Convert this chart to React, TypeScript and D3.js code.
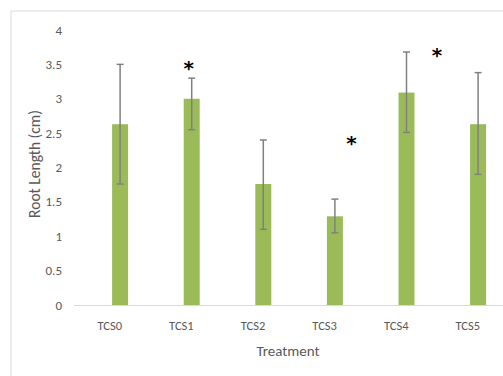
import React from "react";
import * as d3 from "d3";

// Root length per treatment with standard deviation error bars
const categories = ["TCS0", "TCS1", "TCS2", "TCS3", "TCS4", "TCS5"];
const means = [2.63, 3.0, 1.76, 1.29, 3.09, 2.63];
const errUpper = [3.5, 3.3, 2.4, 1.54, 3.68, 3.38];
const errLower = [1.76, 2.55, 1.1, 1.05, 2.51, 1.9];
// significance markers: category, vertical position (axis units), horizontal nudge (px)
const starCats = ["TCS1", "TCS3", "TCS4"];
const starValues = [3.53, 2.44, 3.72];
const starNudge = [-3, 16.5, 30.5];
const yTicks = [0, 0.5, 1, 1.5, 2, 2.5, 3, 3.5, 4];

const W = 503;
const H = 376;
const left = 74;
const right = 503.6;
const top = 30;
const bottom = 305;
// bars sit slightly to the right of their category label
const barShift = 10.3;

const font = "Carlito, Calibri, 'Liberation Sans Narrow', 'DejaVu Sans Condensed', sans-serif";

export default function App() {
  const x = d3.scaleBand<string>().domain(categories).range([left, right]).padding(0);
  const y = d3.scaleLinear().domain([0, 4]).range([bottom, top]);
  const cx = (c: string) => (x(c) as number) + x.bandwidth() / 2;
  const bx = (c: string) => cx(c) + barShift;
  const barW = 16;
  const cap = 3.5;

  return (
    <svg width={W} height={H} style={{ position: "absolute", left: 0, top: 0, background: "#fff" }}>
      {/* chart frame */}
      <path d={`M11,${H} L11,11 L${W},11`} fill="none" stroke="#d9d9d9" strokeWidth={1} />

      {/* y tick labels */}
      {yTicks.map((t) => (
        <text key={t} x={62} y={y(t)} dy="0.35em" textAnchor="end" fontFamily={font} fontSize={13} fill="#595959">
          {t}
        </text>
      ))}

      {/* x axis baseline */}
      <line x1={left} x2={W} y1={bottom + 0.5} y2={bottom + 0.5} stroke="#d9d9d9" strokeWidth={1} />

      {/* bars */}
      {categories.map((c, i) => (
        <rect key={c} x={bx(c) - barW / 2} y={y(means[i])} width={barW} height={bottom - y(means[i])} fill="#9bbb59" />
      ))}

      {/* error bars */}
      {categories.map((c, i) => {
        const yu = y(errUpper[i]);
        const yl = y(errLower[i]);
        return (
          <g key={c} stroke="#808080" strokeWidth={1.5}>
            <line x1={bx(c)} x2={bx(c)} y1={yu} y2={yl} />
            <line x1={bx(c) - cap} x2={bx(c) + cap} y1={yu} y2={yu} />
            <line x1={bx(c) - cap} x2={bx(c) + cap} y1={yl} y2={yl} />
          </g>
        );
      })}

      {/* x tick labels */}
      {categories.map((c) => (
        <text key={c} x={cx(c)} y={326} dy="0.35em" textAnchor="middle" fontFamily={font} fontSize={12.5} fill="#595959">
          {c}
        </text>
      ))}

      {/* significance asterisks */}
      {starCats.map((c, i) => (
        <text key={c} x={bx(c) + starNudge[i]} y={y(starValues[i])} dy="0.62em" textAnchor="middle" fontFamily="'DejaVu Sans', sans-serif" fontWeight="bold" fontSize={20} fill="#000">
          *
        </text>
      ))}

      {/* axis titles */}
      <text x={288} y={351} dy="0.35em" textAnchor="middle" fontFamily={font} fontSize={15} fill="#595959">
        Treatment
      </text>
      <text transform={`translate(35,164) rotate(-90)`} dy="0.35em" textAnchor="middle" fontFamily={font} fontSize={15.5} fill="#595959">
        Root Length (cm)
      </text>
    </svg>
  );
}
